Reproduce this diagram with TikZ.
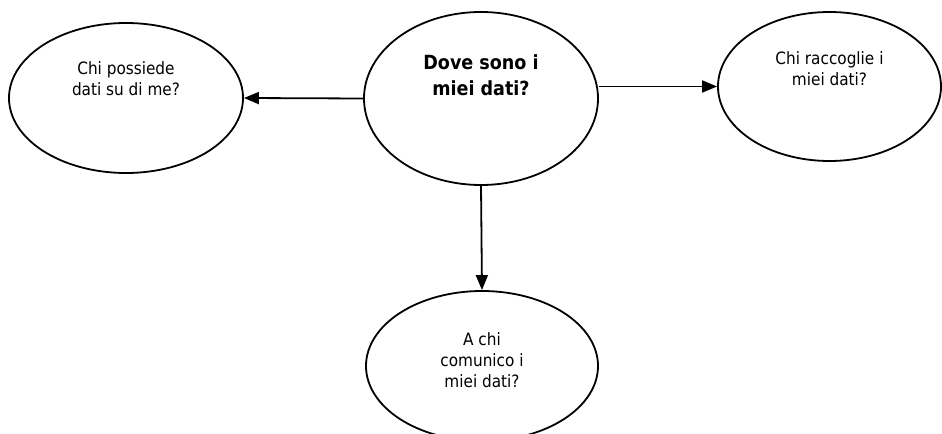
\documentclass[tikz,border=0pt]{standalone}
\usepackage{fontspec}
\setmainfont{DejaVu Sans Condensed}
\usetikzlibrary{shapes.geometric,arrows.meta}
\begin{document}
\begin{tikzpicture}[x=1bp,y=-1bp,
  oval/.style={ellipse,draw=black,line width=1.8bp,inner sep=0pt},
  txt/.style={align=center,font=\fontsize{17bp}{21bp}\selectfont,inner sep=0pt},
  bigtxt/.style={align=center,font=\bfseries\fontsize{19.5bp}{26bp}\selectfont,inner sep=0pt},
  conn/.style={line width=1.8bp,-{Triangle[length=15bp,width=12bp]}}]
\useasboundingbox (0,0) rectangle (942,434);
\clip (0,0) rectangle (942,434);
\node[oval,minimum width=234bp,minimum height=173bp] (c) at (481,98.5) {};
\node[oval,minimum width=234bp,minimum height=150bp] (l) at (126,98) {};
\node[oval,minimum width=223bp,minimum height=149bp] (r) at (829.5,86.5) {};
\node[oval,minimum width=232bp,minimum height=150bp] (b) at (482,366) {};
\node[bigtxt] (ct) at (481,75) {Dove sono i\\miei dati?};
\node[txt] (lt) at (126,79) {Chi possiede\\dati su di me?};
\node[txt] (rt) at (829.5,68.5) {Chi raccoglie i\\miei dati?};
\node[txt] (bt) at (482,360) {A chi\\comunico i\\miei dati?};
\draw[conn] (c.west) -- (l.east);
\draw[conn] (r.west -| c.east) -- (r.west);
\draw[conn] (c.south) -- (b.north);
\end{tikzpicture}
\end{document}
